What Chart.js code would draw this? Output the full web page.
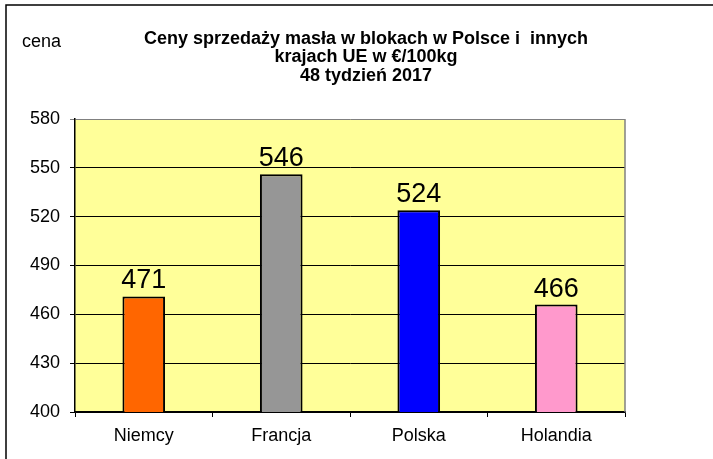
<!DOCTYPE html>
<html lang="pl">
<head>
  <meta charset="UTF-8" />
  <title>Ceny masła w blokach</title>
  <script src="https://cdn.jsdelivr.net/npm/chart.js"></script>
  <style>
    body { margin: 0; background: #fff; }
    .wrap { width: 713px; height: 459px; position: relative; }
  </style>
</head>
<body>
  <div class="wrap">
    <canvas id="chart" width="713" height="459"></canvas>
  </div>

<script>
  const countries = ['Niemcy', 'Francja', 'Polska', 'Holandia'];
  const prices = [471, 546, 524, 466];
  const barColors = ['#FF6600', '#969696', '#0000FF', '#FF99CC'];
  const titleLines = ['Ceny sprzedaży masła w blokach w Polsce i  innych', 'krajach UE w €/100kg', '48 tydzień 2017'];
  const axisLabel = 'cena';
  const yMin = 400, yMax = 580, yStep = 30;

  const FONT = 'Arial, "Liberation Sans", sans-serif';

  // yellow plot background, grey top/right edge, outer frame
  const decor = {
    id: 'decor',
    beforeDraw(chart) {
      const { ctx, chartArea: a } = chart;
      ctx.save();
      ctx.fillStyle = '#FFFF99';
      ctx.fillRect(a.left, a.top, a.right - a.left, a.bottom - a.top);
      ctx.restore();
    },
    afterDraw(chart) {
      const { ctx, chartArea: a } = chart;
      ctx.save();
      ctx.strokeStyle = '#808080';
      ctx.lineWidth = 1.5;
      ctx.beginPath();
      ctx.moveTo(a.right, a.top);
      ctx.lineTo(a.right, a.bottom);
      ctx.stroke();

      // frame of the picture
      ctx.strokeStyle = '#000';
      ctx.lineWidth = 1.5;
      ctx.beginPath();
      ctx.moveTo(6, 459);
      ctx.lineTo(6, 5);
      ctx.lineTo(713, 5);
      ctx.stroke();

      // title
      ctx.fillStyle = '#000';
      ctx.textAlign = 'center';
      ctx.textBaseline = 'middle';
      ctx.font = 'bold 18px ' + FONT;
      titleLines.forEach((t, i) => ctx.fillText(t, 366, 39 + i * 18.5));

      ctx.textAlign = 'left';
      ctx.font = '18px ' + FONT;
      ctx.fillText(axisLabel, 22, 42);

      // value labels above bars
      const meta = chart.getDatasetMeta(0);
      ctx.font = '27px ' + FONT;
      ctx.textAlign = 'center';
      ctx.textBaseline = 'alphabetic';
      meta.data.forEach((bar, i) => {
        ctx.fillText(prices[i], bar.x, bar.y - 8);
      });
      ctx.restore();
    }
  };

  new Chart(document.getElementById('chart'), {
    type: 'bar',
    data: {
      labels: countries,
      datasets: [{
        data: prices,
        backgroundColor: barColors,
        borderColor: '#000',
        borderWidth: 2,
        borderSkipped: false,
        categoryPercentage: 1,
        barPercentage: 0.31
      }]
    },
    plugins: [decor],
    options: {
      responsive: false,
      animation: false,
      layout: { padding: { left: 0, right: 88, top: 119, bottom: 0 } },
      plugins: {
        legend: { display: false },
        tooltip: { enabled: false }
      },
      scales: {
        x: {
          afterFit: s => { s.height = 47; },
          grid: {
            offset: true,
            drawOnChartArea: false,
            color: '#000',
            tickLength: 5
          },
          border: { color: '#000', width: 1.5 },
          ticks: {
            color: '#000',
            padding: 8,
            font: { family: FONT, size: 18 }
          }
        },
        y: {
          min: yMin,
          max: yMax,
          afterFit: s => { s.width = 75; },
          grid: {
            color: ctx => ctx.tick && ctx.tick.value === yMax ? '#808080' : '#000',
            lineWidth: 1,
            tickLength: 5
          },
          border: { color: '#000', width: 1.5 },
          ticks: {
            stepSize: yStep,
            color: '#000',
            padding: 10,
            font: { family: FONT, size: 18 }
          }
        }
      }
    }
  });
</script>
</body>
</html>
